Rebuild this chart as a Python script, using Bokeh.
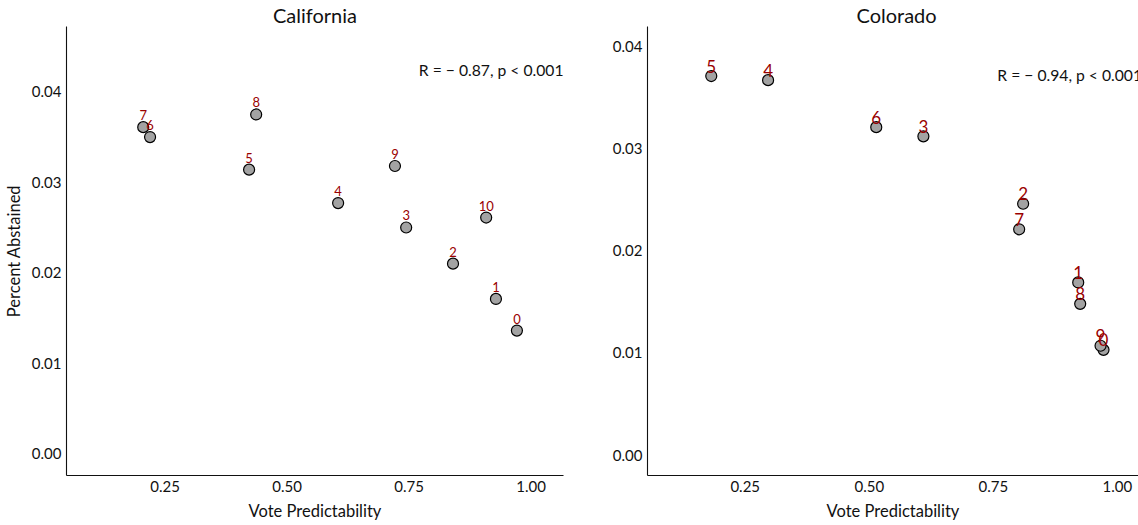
from bokeh.plotting import figure
from bokeh.layouts import row
from bokeh.models import Range1d, FixedTicker
from bokeh.core.properties import value
from bokeh.embed import file_html
from bokeh.resources import INLINE

# ---------------- data ----------------
ca_labels = ["0", "1", "2", "3", "4", "5", "6", "7", "8", "9", "10"]
ca_x = [0.971, 0.928, 0.840, 0.744, 0.6045, 0.422, 0.219, 0.205, 0.4365, 0.721, 0.908]
ca_y = [0.0136, 0.0171, 0.0210, 0.0250, 0.0277, 0.0314, 0.0350, 0.0361, 0.0375, 0.0318, 0.0261]

co_labels = ["0", "1", "2", "3", "4", "5", "6", "7", "8", "9"]
co_x = [0.972, 0.921, 0.810, 0.609, 0.296, 0.1815, 0.514, 0.802, 0.925, 0.966]
co_y = [0.0103, 0.0169, 0.0246, 0.0312, 0.0367, 0.0371, 0.0321, 0.0221, 0.0148, 0.0107]

ca_title = "California"
co_title = "Colorado"
ca_stat = "R = − 0.87, p < 0.001"
co_stat = "R = − 0.94, p < 0.001"
x_label = "Vote Predictability"
y_label = "Percent Abstained"

x_ticks = [0.25, 0.50, 0.75, 1.00]
x_tick_labels = ["0.25", "0.50", "0.75", "1.00"]
y_ticks = [0.00, 0.01, 0.02, 0.03, 0.04]
y_tick_labels = ["0.00", "0.01", "0.02", "0.03", "0.04"]

FONT = "Lato"
LABEL_RED = "#9a0000"
POINT_FILL = "#a3a3a3"
INK = "#111111"


def make_panel(title, xs, ys, labels, stat, xr, yr, width, mb_left, mb_right,
               show_ylabel, lab_size, lab_off, stat_x, stat_y, title_align, title_offset):
    p = figure(width=width, height=525, output_backend="svg", toolbar_location=None,
               x_range=Range1d(*xr), y_range=Range1d(*yr),
               min_border_left=mb_left, min_border_right=mb_right,
               min_border_top=25, min_border_bottom=50)
    p.outline_line_color = None
    p.grid.visible = False
    p.background_fill_color = "white"
    p.border_fill_color = "white"

    p.title.text = title
    p.title.align = title_align
    p.title.text_font = FONT
    p.title.text_font_size = "20px"
    p.title.text_font_style = "normal"
    p.title.text_color = INK
    p.title.standoff = 0
    p.title.offset = title_offset

    for ax in (p.xaxis[0], p.yaxis[0]):
        ax.major_tick_line_color = None
        ax.minor_tick_line_color = None
        ax.major_tick_out = 0
        ax.major_tick_in = 0
        ax.minor_tick_out = 0
        ax.minor_tick_in = 0
        ax.axis_line_color = INK
        ax.axis_line_width = 1.1
        ax.major_label_text_font = FONT
        ax.major_label_text_font_size = "15px"
        ax.major_label_text_color = INK
        ax.axis_label_text_font = FONT
        ax.axis_label_text_font_size = "16.5px"
        ax.axis_label_text_font_style = "normal"
        ax.axis_label_text_color = INK

    p.xaxis.ticker = FixedTicker(ticks=x_ticks)
    p.xaxis.major_label_overrides = dict(zip(x_ticks, x_tick_labels))
    p.yaxis.ticker = FixedTicker(ticks=y_ticks)
    p.yaxis.major_label_overrides = dict(zip(y_ticks, y_tick_labels))
    p.xaxis.axis_label = x_label
    p.xaxis.major_label_standoff = 5
    p.xaxis.axis_label_standoff = 6
    p.yaxis.major_label_standoff = 5
    if show_ylabel:
        p.yaxis.axis_label = y_label
        p.yaxis.axis_label_standoff = 5

    p.scatter(xs, ys, size=11, fill_color=POINT_FILL, line_color="black", line_width=1.2)
    p.text(xs, ys, text=labels, text_color=LABEL_RED, text_font=value(FONT),
           text_font_size=lab_size, text_align="center", text_baseline="alphabetic",
           y_offset=lab_off)
    p.text([stat_x], [stat_y], text=[stat], text_color=INK, text_font=value(FONT),
           text_font_size="15.7px", text_align="left", text_baseline="middle")
    return p


ca_xr = (0.0477, 1.0665)
ca_yr = (-0.00243, 0.04723)
co_xr = (0.053, 1.0425)
co_yr = (-0.0020, 0.04195)

p1 = make_panel(ca_title, ca_x, ca_y, ca_labels, ca_stat, ca_xr, ca_yr, 580, 65, 17,
                True, "13px", -12, 0.770, 0.0424, "center", 0)
p2 = make_panel(co_title, co_x, co_y, co_labels, co_stat, co_xr, co_yr, 558, 67, 0,
                False, "17px", -10, 0.758, 0.03716, "left", 209)

layout = row(p1, p2)
open("out.html", "w").write(file_html(layout, INLINE))
